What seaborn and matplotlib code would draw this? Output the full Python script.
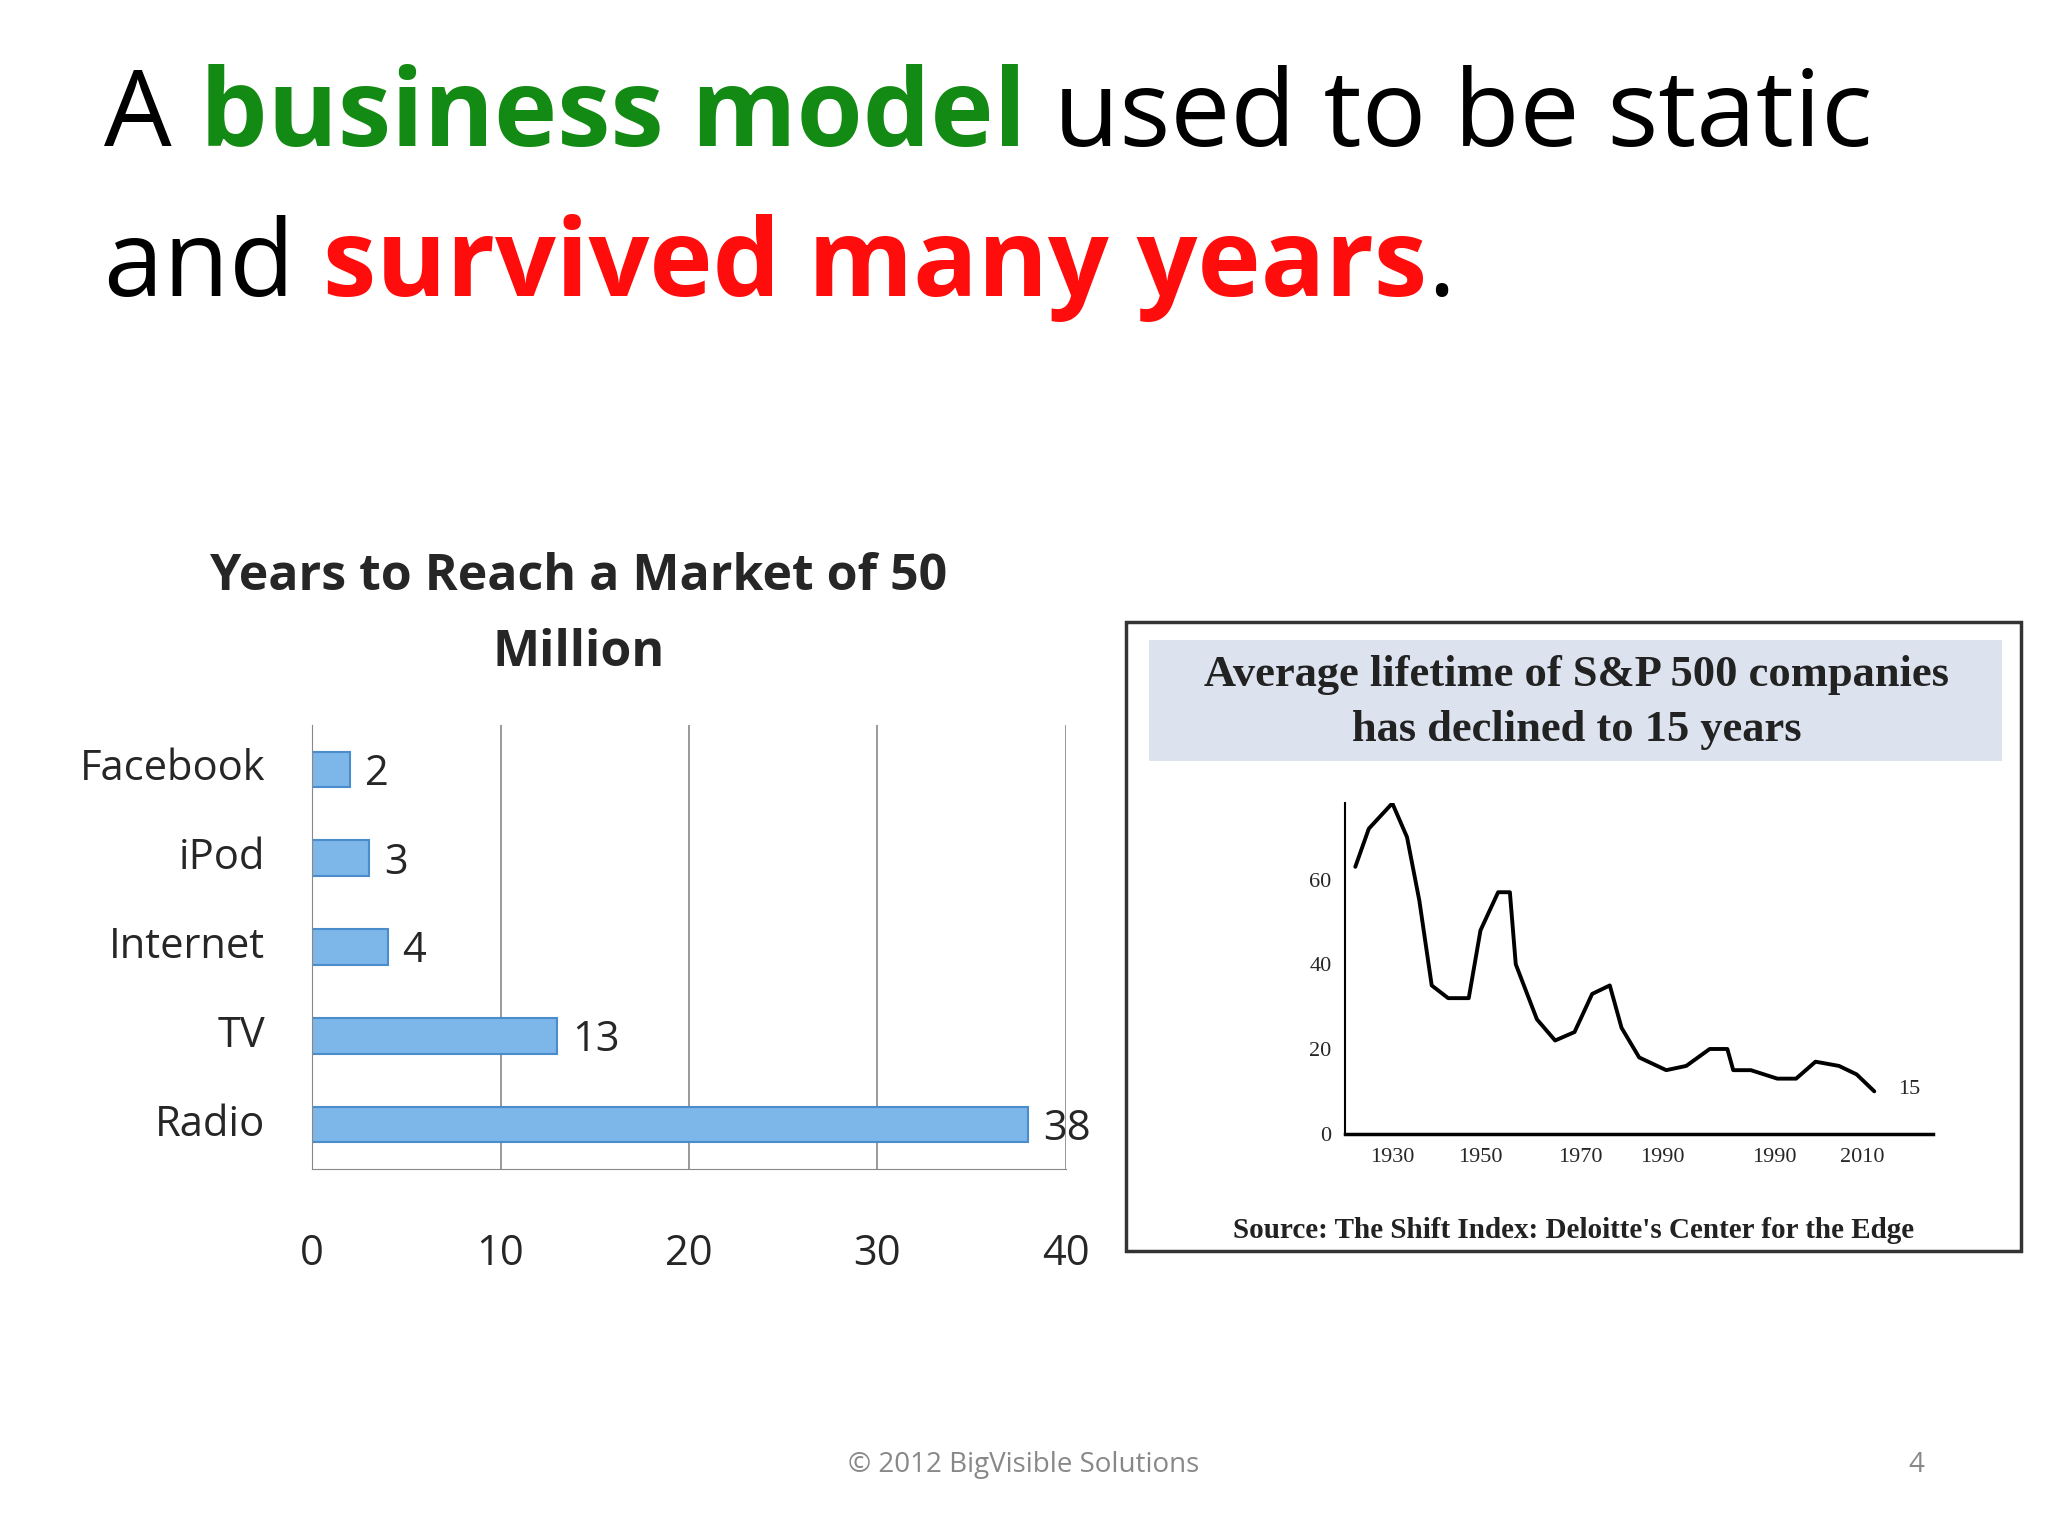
import matplotlib
matplotlib.use("Agg")
import matplotlib.pyplot as plt
import seaborn as sns
import pandas as pd
from matplotlib.patches import Rectangle

# bar chart data
products = ["Facebook", "iPod", "Internet", "TV", "Radio"]
years_to_50m = [2, 3, 4, 13, 38]

# S&P 500 lifetime curve
sp_year = [1923.7, 1926, 1930, 1932.5, 1934.6, 1936.7, 1939.5, 1943, 1945, 1948, 1950, 1951,
           1954.6, 1957.7, 1961, 1964, 1967, 1969, 1972, 1976.6, 1980, 1984, 1987, 1988,
           1991, 1995.5, 1998.7, 2002, 2006, 2009, 2012]
sp_life = [63, 72, 78, 70, 55, 35, 32, 32, 48, 57, 57, 40,
           27, 22, 24, 33, 35, 25, 18, 15, 16, 20, 20, 15,
           15, 13, 13, 17, 16, 14, 10]
sp_xticks = [1930, 1945, 1962, 1976, 1995, 2010]
sp_xlabels = ["1930", "1950", "1970", "1990", "1990", "2010"]

sns.set_style("white")
plt.rcParams["font.family"] = ["Open Sans", "DejaVu Sans"]

fig = plt.figure(figsize=(20.48, 15.36), dpi=100)
W, H = 1568, 1176  # layout measured in these units

def fx(x):
    return x / W

def fy(y):
    return 1 - y / H

# headline with coloured words
renderer = fig.canvas.get_renderer()
def line_of(parts, x, y):
    for txt, col, wt in parts:
        t = fig.text(x, y, txt, fontsize=77, color=col, weight=wt, va="baseline")
        bb = t.get_window_extent(renderer)
        x = x + bb.width / fig.bbox.width

line_of([("A ", "black", "normal"), ("business model", "#138a13", "bold"),
         (" used to be static", "black", "normal")], fx(80), fy(112))
line_of([("and ", "black", "normal"), ("survived many years", "#ff0d0d", "bold"),
         (".", "black", "normal")], fx(80), fy(227))

# left bar chart
ax = fig.add_axes([fx(239), fy(895), fx(816 - 239), (895 - 555) / H])
df = pd.DataFrame({"product": products, "years": years_to_50m})
sns.barplot(data=df, y="product", x="years", ax=ax, color="#7db6e8",
            edgecolor="#4a8ccc", linewidth=1.5, width=0.4, saturation=1)
ax.set_xlim(0, 40)
ax.set_xticks([0, 10, 20, 30, 40])
ax.grid(axis="x", color="#888888", linewidth=1.2)
ax.set_axisbelow(True)
for s in ["top", "right"]:
    ax.spines[s].set_visible(False)
ax.spines["left"].set_color("#888888")
ax.spines["bottom"].set_color("#888888")
ax.set_ylim(4.5, -0.5)
ax.set_yticks([-0.5, 0.5, 1.5, 2.5, 3.5, 4.5], minor=False)
ax.set_yticklabels([])
ax.tick_params(axis="y", length=12, color="#888888")
ax.tick_params(axis="x", labelsize=30, length=12, color="#888888", pad=34, direction="out")
for i, (p, v) in enumerate(zip(products, years_to_50m)):
    ax.text(-2.5, i, p, ha="right", va="center", fontsize=30)
    ax.text(v + 0.8, i + 0.05, str(v), ha="left", va="center", fontsize=30)
ax.set_xlabel("")
ax.set_ylabel("")
fig.text(fx(443), fy(442), "Years to Reach a Market of 50", ha="center", va="center",
         fontsize=36, weight="bold")
fig.text(fx(443), fy(500), "Million", ha="center", va="center", fontsize=36, weight="bold")

# right panel (image of S&P chart)
fig.patches.append(Rectangle((fx(862), fy(958)), fx(1547 - 862), (958 - 476) / H,
                             transform=fig.transFigure, fill=False, edgecolor="#333333",
                             linewidth=2.5))
fig.patches.append(Rectangle((fx(880), fy(583)), fx(1533 - 880), (583 - 490) / H,
                             transform=fig.transFigure, facecolor="#dde3ee", edgecolor="none"))
serif = ["Liberation Serif", "DejaVu Serif"]
fig.text(fx(1207), fy(517), "Average lifetime of S&P 500 companies", ha="center", va="center",
         fontsize=32, family=serif, weight="bold", color="#222222")
fig.text(fx(1207), fy(559), "has declined to 15 years", ha="center", va="center",
         fontsize=32, family=serif, weight="bold", color="#222222")
fig.text(fx(1205), fy(942), "Source: The Shift Index: Deloitte's Center for the Edge",
         ha="center", va="center", fontsize=21, family=serif, weight="bold", color="#222222")

ax2 = fig.add_axes([fx(1030), fy(868), fx(1480 - 1030), (868 - 615) / H])
sns.lineplot(x=sp_year, y=sp_life, ax=ax2, color="black", linewidth=2.8)
ax2.set_xlim(1922, 2022)
ax2.set_ylim(0, 78)
ax2.set_xticks(sp_xticks)
ax2.set_xticklabels(sp_xlabels, family=serif, fontsize=16)
ax2.set_yticks([0, 20, 40, 60])
ax2.set_yticklabels(["0", "20", "40", "60"], family=serif, fontsize=16)
ax2.tick_params(length=0, pad=10)
for s in ["top", "right"]:
    ax2.spines[s].set_visible(False)
ax2.spines["left"].set_color("black")
ax2.spines["bottom"].set_color("black")
ax2.spines["left"].set_linewidth(1.5)
ax2.spines["bottom"].set_linewidth(2.5)
ax2.text(2016, 10.5, "15", family=serif, fontsize=16, va="center")

# footer
fig.text(fx(784), fy(1122), "\u00a9 2012 BigVisible Solutions", ha="center", va="center",
         fontsize=20, color="#888888")
fig.text(fx(1467), fy(1122), "4", ha="center", va="center", fontsize=20, color="#888888")

fig.savefig("out.png", dpi=100, facecolor="white")
